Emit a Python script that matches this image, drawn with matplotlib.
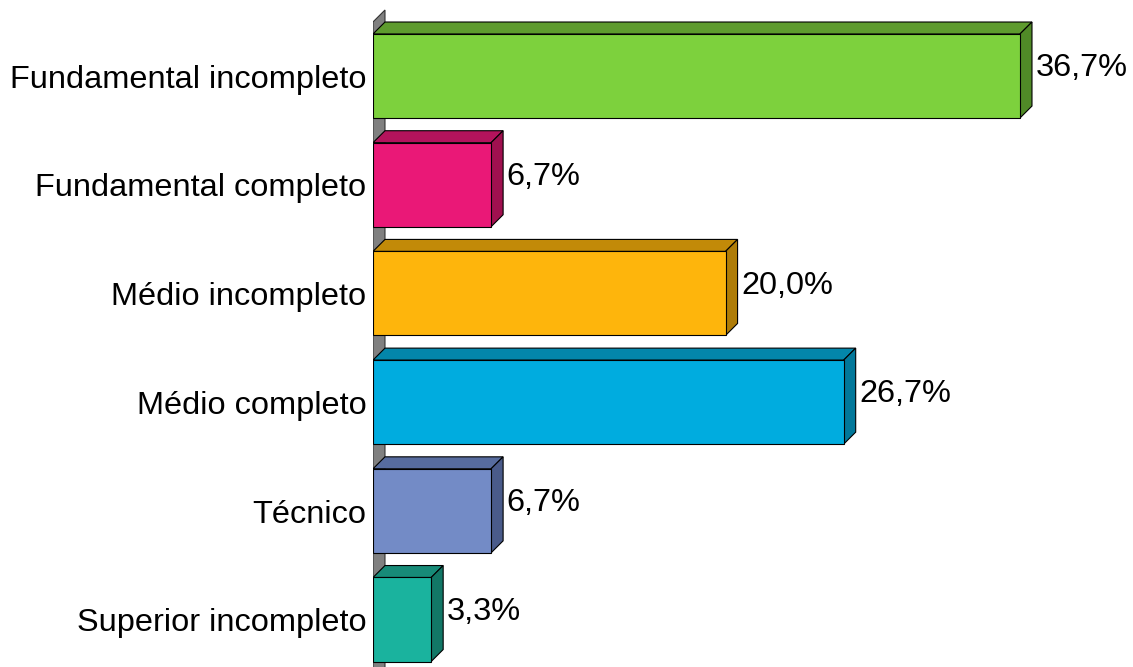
import matplotlib
matplotlib.use("Agg")
import matplotlib.pyplot as plt
from matplotlib.patches import Polygon

categories = ["Fundamental incompleto", "Fundamental completo", "Médio incompleto",
              "Médio completo", "Técnico", "Superior incompleto"]
values = [36.7, 6.7, 20.0, 26.7, 6.7, 3.3]
labels = ["36,7%", "6,7%", "20,0%", "26,7%", "6,7%", "3,3%"]

front_colors = ["#7DD13D", "#EA1877", "#FEB50C", "#00ACDF", "#738BC6", "#1AB39E"]
top_colors = ["#5E9B2E", "#B3135C", "#C28A08", "#0386AA", "#576C9E", "#178B78"]
side_colors = ["#508A27", "#A0104F", "#AF7C07", "#02789A", "#4A5B8A", "#127766"]

plt.rcParams["font.family"] = ["Liberation Sans", "DejaVu Sans"]

fig = plt.figure(figsize=(11.33, 6.67), dpi=100)
ax = fig.add_axes([373 / 1133, 0, 1 - 373 / 1133, 1])
ax.set_xlim(0, 43.11)
ax.set_ylim(5.437, -0.699)
ax.axis("off")

h = 0.773   # bar thickness (category units)
dx = 0.68   # depth offset along x
dy = 0.11   # depth offset along y (up)

# back wall
wall = Polygon([(0, 6.0), (0, -0.497), (dx, -0.497 - dy), (dx, 6.0)],
               closed=True, facecolor="#808080", edgecolor="#333333", lw=0.8, zorder=1)
ax.add_patch(wall)

for i, (v, fc, tc, sc) in enumerate(zip(values, front_colors, top_colors, side_colors)):
    y0, y1 = i - h / 2, i + h / 2
    top = Polygon([(0, y0), (dx, y0 - dy), (v + dx, y0 - dy), (v, y0)],
                  closed=True, facecolor=tc, edgecolor="black", lw=0.8, zorder=2)
    side = Polygon([(v, y0), (v + dx, y0 - dy), (v + dx, y1 - dy), (v, y1)],
                   closed=True, facecolor=sc, edgecolor="black", lw=0.8, zorder=2)
    front = Polygon([(0, y0), (v, y0), (v, y1), (0, y1)],
                    closed=True, facecolor=fc, edgecolor="black", lw=0.8, zorder=3)
    for p in (top, side, front):
        ax.add_patch(p)
    ax.text(v + dx + 0.2, i - 0.07, labels[i], ha="left", va="center",
            fontsize=23.4, color="black")
    ax.text(-0.38, i + 0.035, categories[i], ha="right", va="center",
            fontsize=23.4, color="black", clip_on=False)

fig.savefig("out.png", dpi=100)
